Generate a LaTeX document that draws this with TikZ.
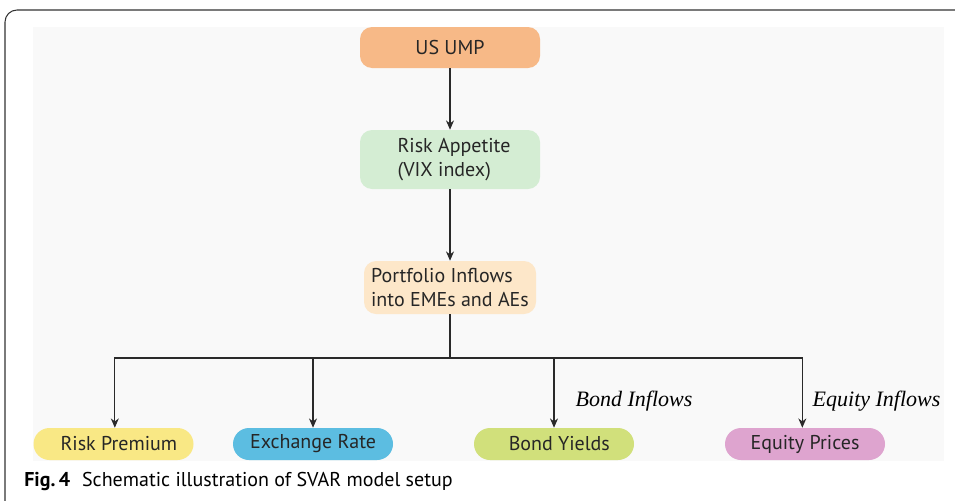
\documentclass[tikz,border=0pt]{standalone}
\usepackage{fontspec}
\setsansfont{PT Sans}
\newfontfamily\labelserif{Liberation Serif}
\usepackage{tikz}
\usetikzlibrary{arrows.meta,positioning,calc}
\definecolor{umpfill}{HTML}{F7B987}
\definecolor{riskfill}{HTML}{D4EDD3}
\definecolor{portfill}{HTML}{FDE7C9}
\definecolor{premfill}{HTML}{F9E885}
\definecolor{exchfill}{HTML}{5CBDE1}
\definecolor{bondfill}{HTML}{D1E07B}
\definecolor{eqfill}{HTML}{DEA4CF}
\definecolor{panelgray}{HTML}{F9F9F9}
\definecolor{lineblack}{HTML}{2A2A2A}

\begin{document}
\begin{tikzpicture}[
      x=0.75pt, y=-0.75pt,
      box/.style={rounded corners=9pt, align=left, inner sep=2pt,
                  font=\sffamily\fontsize{15}{18}\selectfont, text=black!85,
                  minimum width=135pt},
      pill/.style={rounded corners=12pt, align=center, inner sep=2pt,
                   font=\sffamily\fontsize{15}{18}\selectfont, text=black!85,
                   minimum width=120pt, minimum height=24pt},
      lab/.style={font=\labelserif\itshape\fontsize{16.5}{19}\selectfont, anchor=west},
      arr/.style={-{Stealth[length=7pt,width=6pt]}, lineblack, line width=0.8pt}
    ]
    \useasboundingbox (0,0) rectangle (955,500);
    % frame and panel
    \draw[black!80, line width=0.8pt, rounded corners=9pt]
      (5,505) -- (5,10) -- (965,10);
    \fill[panelgray] (33,27) rectangle (944,461);

    \node[box, fill=umpfill, minimum height=30.75pt] (ump) at (450,47.5) {US UMP};
    \node[box, fill=riskfill, minimum height=44.25pt] (risk) at (450,159.5)
      {\hspace{6pt}Risk Appetite\\\hspace{6pt}(VIX index)};
    \node[box, fill=portfill, minimum height=39.75pt, minimum width=129pt]
      (port) at (450,287.5) {Portfolio Inflows\\into EMEs and AEs};

    \node[pill, fill=premfill] (prem) at (113.5,444) {\hspace{8pt}Risk Premium};
    \node[pill, fill=exchfill] (exch) at (313,444) {Exchange Rate};
    \node[pill, fill=bondfill] (bond) at (554,444) {\hspace{8pt}Bond Yields};
    \node[pill, fill=eqfill] (eq) at (805,444) {Equity Prices};

    \coordinate (bus) at (450,358);

    \draw[arr] (ump) -- (risk);
    \draw[arr] (risk) -- (port);
    \draw[lineblack, line width=0.8pt] (port.south) -- (bus);
    \draw[arr] (bus) -| ([xshift=1pt]prem.north);
    \draw[arr] (bus) -| (exch.north);
    \draw[arr] (bus) -| (bond.north);
    \draw[arr] (bus) -| ([xshift=-2pt]eq.north);

    \node[lab] (bondlab) at (571,401) {Bond Inflows};
    \node[lab] (eqlab) at (808,401) {Equity Inflows};

    \node[anchor=west, font=\sffamily\fontsize{15}{18}\selectfont, inner sep=0pt]
      (caption) at (24,481)
      {\textbf{Fig.\,4}\hspace{0.6em}Schematic illustration of SVAR model setup};
  \end{tikzpicture}
\end{document}
